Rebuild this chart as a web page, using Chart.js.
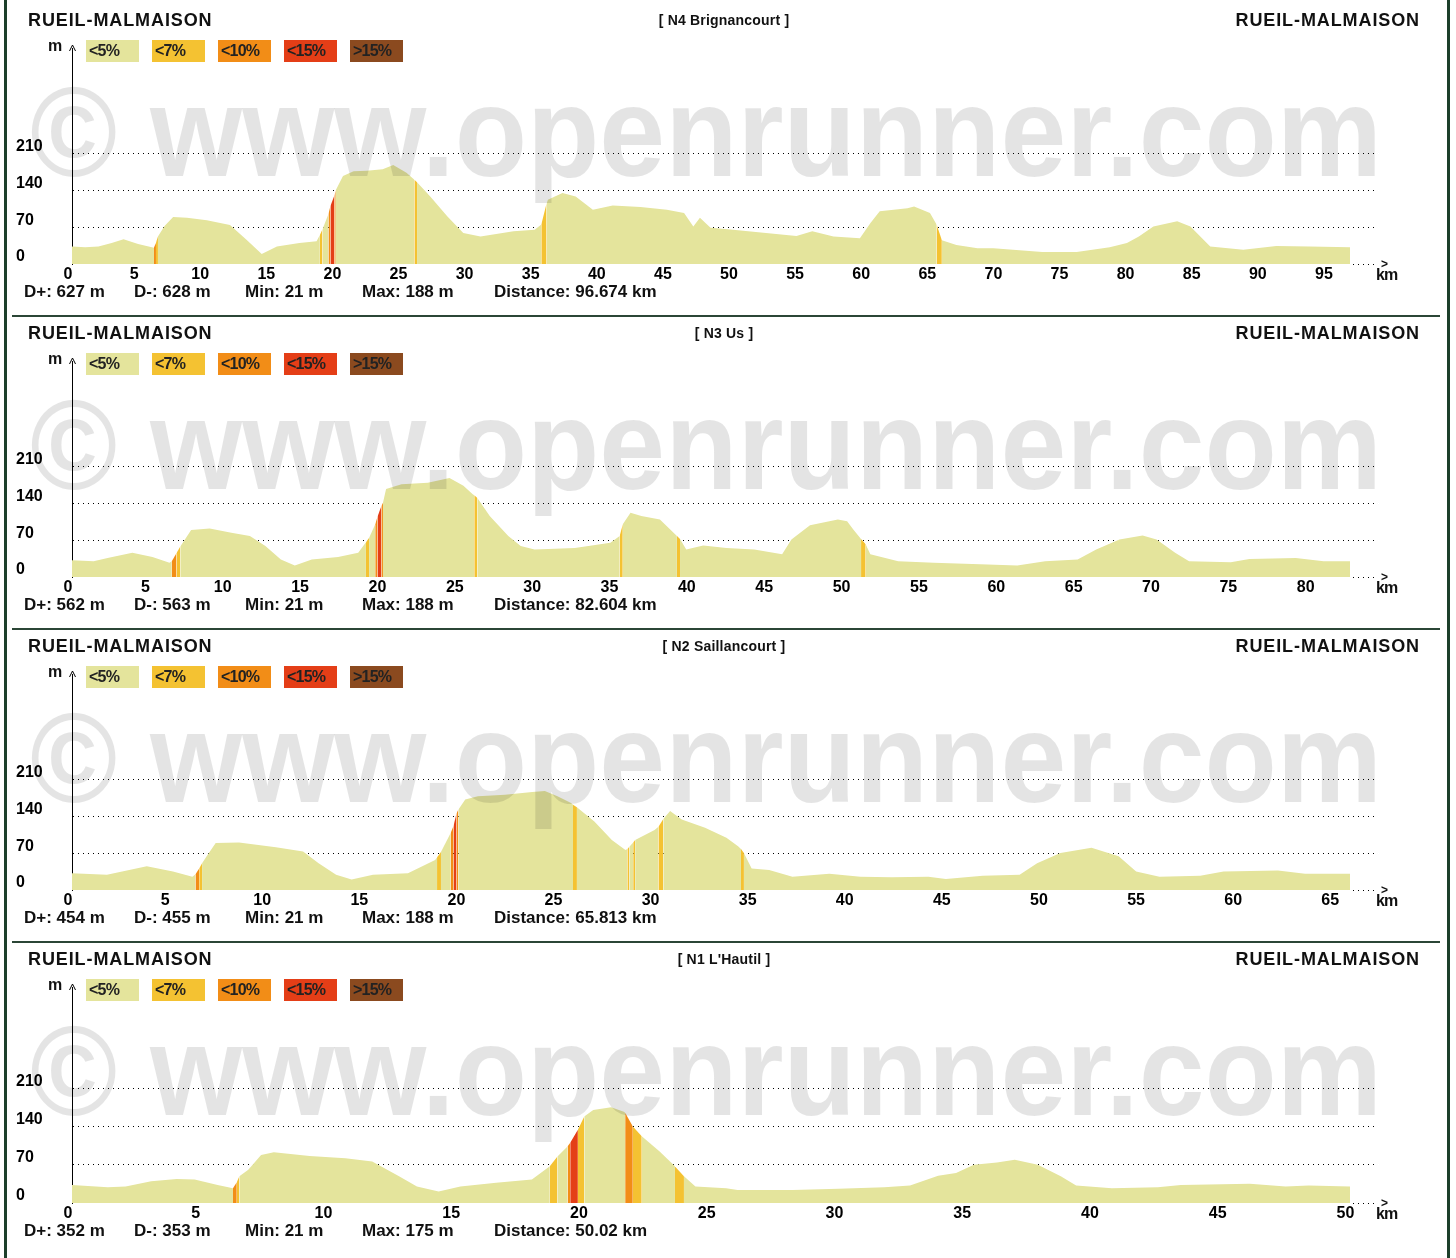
<!DOCTYPE html>
<html>
<head>
<meta charset="utf-8">
<script src="https://cdn.jsdelivr.net/npm/chart.js@4.4.1/dist/chart.umd.min.js"></script>
<style>
html,body{margin:0;padding:0;background:#fff;}
#page{position:relative;width:1456px;height:1258px;overflow:hidden;background:#fff;font-family:"Liberation Sans",Arial,sans-serif;font-weight:bold;color:#111;}
.panel{position:absolute;left:0;width:1456px;height:320px;}
.panel canvas{position:absolute;left:0;top:0;}
.t{position:absolute;white-space:nowrap;line-height:1;}
.ttl{font-size:18px;letter-spacing:0.9px;top:11px;}
.mid{font-size:14px;top:13px;left:0;width:1448px;text-align:center;letter-spacing:0.2px;}
.leg{position:absolute;top:40px;width:53px;height:22px;font-size:16px;line-height:22px;letter-spacing:-0.8px;color:#222;box-sizing:border-box;padding-left:3px;}
.stat{font-size:17px;top:283px;}
.wm{position:absolute;left:30px;top:68px;font-size:128px;line-height:128px;color:rgba(0,0,0,0.105);white-space:nowrap;transform-origin:0 0;pointer-events:none;font-family:"Liberation Sans",Arial,sans-serif;font-weight:bold;}
.sep{position:absolute;left:12px;width:1428px;height:2px;background:#2b4636;}
.vb{position:absolute;top:0;width:3px;height:1258px;background:#1d3f2a;}
</style>
</head>
<body>
<div id="page"></div>
<script>
// ---------------- data ----------------
const NAMES = ['[ N4 Brignancourt ]', '[ N3 Us ]', '[ N2 Saillancourt ]', '[ N1 L\'Hautil ]'];
const START = 'RUEIL-MALMAISON';
const END = 'RUEIL-MALMAISON';
const DPLUS = ['D+: 627 m', 'D+: 562 m', 'D+: 454 m', 'D+: 352 m'];
const DMINUS = ['D-: 628 m', 'D-: 563 m', 'D-: 455 m', 'D-: 353 m'];
const MINS = ['Min: 21 m', 'Min: 21 m', 'Min: 21 m', 'Min: 21 m'];
const MAXS = ['Max: 188 m', 'Max: 188 m', 'Max: 188 m', 'Max: 175 m'];
const DISTS = ['Distance: 96.674 km', 'Distance: 82.604 km', 'Distance: 65.813 km', 'Distance: 50.02 km'];
const DIST = [96.674, 82.604, 65.813, 50.02];

const LEGEND_LABELS = ['<5%', '<7%', '<10%', '<15%', '>15%'];
const Y_TICKS = [0, 70, 140, 210];
const X_TICKS_1 = [0,5,10,15,20,25,30,35,40,45,50,55,60,65,70,75,80,85,90,95];
const X_TICKS_2 = [0,5,10,15,20,25,30,35,40,45,50,55,60,65,70,75,80];
const X_TICKS_3 = [0,5,10,15,20,25,30,35,40,45,50,55,60,65];
const X_TICKS_4 = [0,5,10,15,20,25,30,35,40,45,50];

// N4 Brignancourt
const KM_1 = [0,1,2,3,3.9,5,6.2,6.35,6.5,7,7.65,8.7,10.2,11.95,13.2,14.35,15.5,17.2,18.5,18.75,18.95,19.4,19.55,19.85,19.95,20.5,21.3,22.3,23.5,24.3,25.3,25.9,26.1,27.1,28.4,29.6,30.9,33.4,35,35.5,35.9,36,37.1,38.1,39.4,40.9,43,45,46.3,47,47.5,48.3,50,52.5,54.8,56,57.6,59.6,60.4,61.1,63.2,63.7,64.9,65.4,65.8,66.9,68.5,69.7,73.4,76,78.5,79.8,80.7,81.8,83.6,84.6,86.1,88.6,91.1,93.6,96.674];
const ELEV_1 = [33,32,33,40,47,38,31,40,52,72,89,88,83,74,46,19,33,40,43,55,66,95,110,130,140,167,176,177,180,188,173,160,155,128,90,59,52,62,65,75,115,122,135,128,103,111,108,103,97,71,88,69,65,59,53,62,52,49,78,100,106,109,97,75,45,36,30,30,23,23,32,40,52,71,81,71,33,27,34,33,32];
const STEEP_1 = [[6.2,6.35,2],[6.35,6.5,1],[18.75,18.95,1],[19.4,19.55,2],[19.55,19.85,3],[19.85,19.95,2],[25.9,26.1,1],[35.5,35.9,1],[65.4,65.8,1]];

// N3 Us
const KM_2 = [0,1.4,2.3,3.9,5.2,6.3,6.45,6.75,7.0,7.7,8.9,10.3,11.5,12.5,13.5,14.4,15.5,17.2,18.5,19.0,19.2,19.6,19.75,20.0,20.1,20.3,21.3,23.0,24.4,25.3,25.9,26.0,26.2,27.0,28.2,29.0,29.9,32.5,34.8,35.4,35.6,36.1,36.8,38.0,39.1,39.3,39.7,40.8,42.3,44.1,45.9,46.5,47.7,49.5,50.1,50.5,51.0,51.3,51.6,53.4,55.7,58.7,61.1,62.9,65.0,66.2,67.7,69.2,70.1,71.3,72.2,74.9,76.1,79.1,80.9,82.604];
const ELEV_2 = [32,30,36,46,38,27,30,45,58,89,92,84,78,59,33,22,33,38,46,66,74,100,115,135,141,167,176,179,188,173,157,155,150,116,78,59,52,55,65,78,100,122,116,109,78,72,52,60,55,52,43,71,98,109,106,90,72,62,43,30,27,24,22,30,33,52,71,79,71,46,30,28,34,36,30,30];
const STEEP_2 = [[6.45,6.75,2],[6.75,7.0,1],[19.0,19.2,1],[19.6,19.75,2],[19.75,20.0,3],[20.0,20.1,2],[26.0,26.2,1],[35.4,35.6,1],[39.1,39.3,1],[51.0,51.3,1]];

// N2 Saillancourt
const KM_3 = [0,1.8,3.85,5.2,6.2,6.36,6.55,6.7,6.9,7.4,8.6,10.5,11.9,12.7,13.6,14.4,15.5,17.3,18.7,18.8,19.0,19.5,19.65,19.8,19.9,20.25,20.9,22.3,23.7,24.35,25.0,25.7,25.8,26.0,26.9,27.8,28.5,28.6,28.7,28.9,29.0,30.0,30.2,30.45,30.8,31.4,32.6,33.7,34.3,34.45,34.6,35.0,35.9,37.1,39.0,40.6,42.2,44.1,45.0,46.9,48.8,49.7,50.9,52.5,53.9,54.8,56.0,58.1,59.3,62.1,63.5,65.813];
const ELEV_3 = [32,29,45,35,25,30,41,51,62,89,90,81,73,51,29,20,29,32,57,62,72,108,122,145,153,172,178,181,186,188,178,165,162,157,130,95,76,78,82,90,95,114,120,135,150,134,118,99,83,78,70,41,38,25,31,25,24,25,21,27,29,51,70,80,64,35,25,27,35,37,31,31];
const STEEP_3 = [[6.36,6.55,2],[6.55,6.7,1],[18.8,19.0,1],[19.5,19.65,2],[19.65,19.8,3],[19.8,19.9,2],[25.8,26.0,1],[28.6,28.7,1],[28.9,29.0,1],[30.2,30.45,1],[34.45,34.6,1]];

// N1 L'Hautil
const KM_4 = [0,1.4,2.1,3.1,4.1,4.8,5.7,6.3,6.45,6.55,6.9,7.4,7.9,9.3,10.7,11.75,12.8,13.5,14.35,15.2,16.6,18.0,18.7,19.0,19.4,19.5,19.65,19.8,20.05,20.4,21.1,21.6,21.65,21.95,22.3,23.0,23.6,23.95,24.4,25.6,26.05,28.2,30.0,31.8,32.8,33.9,34.6,35.3,36.2,36.9,37.8,38.7,39.3,40.7,42.5,43.4,46.1,47.5,48.4,50.02];
const ELEV_4 = [33,29,30,40,44,43,33,27,38,49,61,88,93,86,82,76,49,30,21,30,37,43,67,85,104,110,122,134,158,170,175,167,165,140,122,94,67,49,30,27,24,24,26,29,32,50,55,70,74,79,70,49,32,27,29,33,35,30,32,30];
const STEEP_4 = [[6.3,6.45,2],[6.45,6.55,1],[18.7,19.0,1],[19.4,19.5,2],[19.5,19.8,3],[19.8,20.05,1],[21.65,21.95,2],[21.95,22.3,1],[23.6,23.95,1]];

// ---------------- styling ----------------
const GRADE_COLORS = ['#e4e49c', '#f4c232', '#f28d17', '#e43e17', '#8b4a1f'];
const FONT = '"Liberation Sans", Arial, sans-serif';
const PANEL_TOP = [0, 313, 626, 939];
const Y_MAX = [410, 410, 410, 395];

const KMS = [KM_1, KM_2, KM_3, KM_4];
const ELEVS = [ELEV_1, ELEV_2, ELEV_3, ELEV_4];
const STEEPS = [STEEP_1, STEEP_2, STEEP_3, STEEP_4];
const XTICKS = [X_TICKS_1, X_TICKS_2, X_TICKS_3, X_TICKS_4];

Chart.defaults.font.family = FONT;

const page = document.getElementById('page');
function el(tag, cls, parent, style, text) {
  const e = document.createElement(tag);
  if (cls) e.className = cls;
  if (style) Object.assign(e.style, style);
  if (text !== undefined) e.textContent = text;
  parent.appendChild(e);
  return e;
}

// frame
el('div', 'vb', page, {left: '4px'});
el('div', 'vb', page, {left: '1447px'});
[315, 628, 941].forEach(y => el('div', 'sep', page, {top: y + 'px'}));

const endPlugin = {
  id: 'axisExtras',
  afterDraw(chart) {
    const {ctx, chartArea} = chart;
    const xs = chart.scales.x, ys = chart.scales.y;
    const i = chart.options.plugins.axisExtras.index;
    const y0 = Math.round(ys.getPixelForValue(0)) + 0.5;
    const xe = xs.getPixelForValue(DIST[i]);
    ctx.save();
    ctx.strokeStyle = '#000';
    ctx.lineWidth = 1;
    ctx.setLineDash([1, 4]);
    ctx.beginPath();
    ctx.moveTo(xe + 3, y0);
    ctx.lineTo(chartArea.right, y0);
    ctx.stroke();
    ctx.setLineDash([]);
    const xl = Math.round(chartArea.left) + 0.5;
    ctx.beginPath();
    ctx.moveTo(xl - 3, chartArea.top + 3);
    ctx.lineTo(xl, chartArea.top - 3);
    ctx.lineTo(xl + 3, chartArea.top + 3);
    ctx.stroke();
    ctx.restore();
  }
};

for (let i = 0; i < 4; i++) {
  const p = el('div', 'panel', page, {top: PANEL_TOP[i] + 'px'});
  const cv = el('canvas', '', p);
  cv.width = 1456; cv.height = 313;
  cv.style.width = '1456px'; cv.style.height = '313px';

  el('div', 't ttl', p, {left: '28px'}, START);
  el('div', 't ttl', p, {right: '36px'}, END);
  el('div', 't mid', p, {}, NAMES[i]);
  el('div', 't', p, {left: '48px', top: '38px', fontSize: '16px'}, 'm');
  LEGEND_LABELS.forEach((lab, k) => {
    el('div', 'leg', p, {left: (86 + 66 * k) + 'px', background: GRADE_COLORS[k]}, lab);
  });
  const statX = [24, 134, 245, 362, 494];
  [DPLUS[i], DMINUS[i], MINS[i], MAXS[i], DISTS[i]].forEach((s, k) => {
    el('div', 't stat', p, {left: statX[k] + 'px'}, s);
  });
  el('div', 't', p, {left: '1381px', top: '258px', fontSize: '12px'}, '>');
  el('div', 't', p, {left: '1376px', top: '267px', fontSize: '16px', letterSpacing: '-0.8px'}, 'km');

  const steep = STEEPS[i];
  new Chart(cv, {
    type: 'line',
    data: {
      datasets: [{
        data: KMS[i].map((k, j) => ({x: k, y: ELEVS[i][j]})),
        fill: 'origin',
        backgroundColor: GRADE_COLORS[0],
        borderColor: 'rgba(0,0,0,0)',
        borderWidth: 0,
        pointRadius: 0,
        tension: 0,
        segment: {
          backgroundColor: ctx => {
            const a = ctx.p0.parsed.x, b = ctx.p1.parsed.x;
            for (const [s, e, c] of steep) {
              if (a >= s - 1e-6 && b <= e + 1e-6) return GRADE_COLORS[c];
            }
            return undefined;
          }
        }
      }]
    },
    options: {
      responsive: false,
      animation: false,
      devicePixelRatio: 1,
      events: [],
      layout: {padding: {left: 16, top: 48, right: 78, bottom: 0}},
      plugins: {legend: {display: false}, tooltip: {enabled: false}, axisExtras: {index: i}},
      scales: {
        x: {
          type: 'linear', min: 0, max: DIST[i] * 1.0219,
          afterBuildTicks: s => { s.ticks = XTICKS[i].map(v => ({value: v})); },
          afterFit: s => { s.height = 49; },
          grid: {display: false, drawTicks: false},
          border: {display: false},
          ticks: {color: '#000', font: {size: 16, weight: 'bold'}, padding: 1, labelOffset: -4, maxRotation: 0, autoSkip: false}
        },
        y: {
          min: 0, max: Y_MAX[i],
          afterBuildTicks: s => { s.ticks = Y_TICKS.map(v => ({value: v})); },
          afterFit: s => { s.width = 56; },
          grid: {color: c => (c.tick && c.tick.value === 0) ? 'rgba(0,0,0,0)' : '#000', lineWidth: 1, drawTicks: false},
          border: {display: true, color: '#000', width: 1, dash: [1, 4]},
          ticks: {color: '#000', font: {size: 16, weight: 'bold'}, crossAlign: 'far', padding: 0, labelOffset: -7}
        }
      }
    },
    plugins: [endPlugin]
  });

  const wm = el('div', 'wm', p, {}, '\u00A9 www.openrunner.com');
  const w = wm.getBoundingClientRect().width;
  wm.style.transform = 'scaleX(' + (1352 / w) + ')';
}
</script>
</body>
</html>
